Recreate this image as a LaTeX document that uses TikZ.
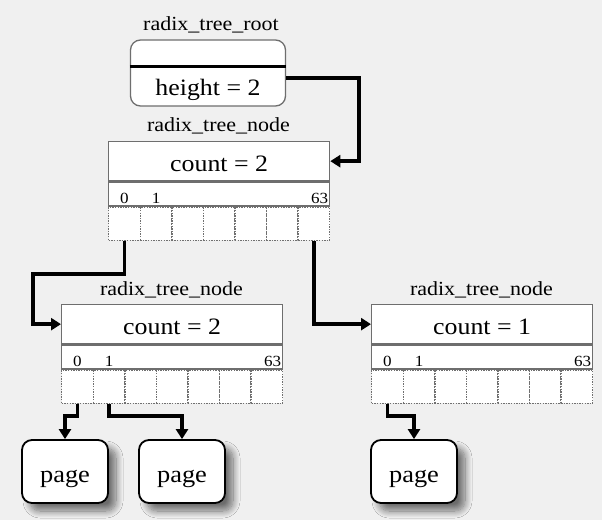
\documentclass[tikz,border=0pt]{standalone}
\usepackage{fontspec}
\setmainfont{Liberation Serif}[FakeStretch=1.1]
\usetikzlibrary{arrows.meta,shadows.blur,calc}
\definecolor{bgcol}{HTML}{F0F0F0}
\definecolor{boxgray}{HTML}{6E6E6E}
\definecolor{dotgray}{HTML}{707070}
\tikzset{
  lbl/.style={font=\fontsize{20}{22}\selectfont, inner sep=0pt},
  cnt/.style={draw=boxgray, line width=1.3pt, fill=white, minimum width=221pt, minimum height=39pt, inner sep=0pt, text height=21pt, text depth=0pt, font=\fontsize{23.5}{26}\selectfont},
  idxrow/.style={draw=boxgray, line width=1.3pt, fill=white, minimum width=221pt, minimum height=24pt, inner sep=0pt},
  slotbox/.style={draw=dotgray, dash pattern=on 1.4pt off 1.2pt, line width=1.4pt, fill=white, minimum width=31.57pt, minimum height=33pt, inner sep=0pt},
  idxnum/.style={font=\fontsize{15.5}{16}\selectfont, inner sep=0pt},
  link/.style={line width=3.5pt, -{Triangle[length=10pt,width=12pt]}},
  pagebox/.style={draw=black, line width=1.8pt, rounded corners=10pt, fill=white, minimum width=86pt, minimum height=63pt, inner sep=0pt, text height=21pt, text depth=0pt, font=\fontsize{24}{26}\selectfont,
    blur shadow={shadow xshift=8pt, shadow yshift=-8pt, shadow blur radius=7pt, shadow blur steps=14, shadow opacity=55}},
}
\newcommand\rtnode[5]{%
  \node[lbl, anchor=base] (#1-lbl) at (#2+110.5, #3-#5) {radix\_tree\_node};
  \node[cnt, anchor=north west] (#1-cnt) at (#2,#3) {count = #4};
  \node[idxrow, anchor=north west] (#1-idx) at (#1-cnt.south west) {};
  \foreach \i in {0,...,6}{
    \node[slotbox, anchor=north west] (#1-s\i) at ($(#1-idx.south west)+(\i*31.57,0)$) {};
  }
  \node[idxnum, anchor=base] (#1-n0) at ($(#1-s0.north)+(0,-3)$) {0};
  \node[idxnum, anchor=base] (#1-n1) at ($(#1-s1.north)+(0,-3)$) {1};
  \node[idxnum, anchor=base east] (#1-n63) at ($(#1-s6.north east)+(-2,-3)$) {63};
}
\begin{document}
\begin{tikzpicture}[x=1pt,y=-1pt]
  \fill[bgcol] (0,0) rectangle (602,520);
  \useasboundingbox (0,0) rectangle (602,520);
  % root
  \node[lbl, anchor=base] (rootlbl) at (211,30) {radix\_tree\_root};
  \node[draw=boxgray, line width=1.3pt, rounded corners=10pt, fill=white, minimum width=155pt, minimum height=66pt, inner sep=0pt] (root) at (208,73) {};
  \draw[line width=3pt] (root.west |- 0,66) -- (root.east |- 0,66);
  \node[font=\fontsize{23.5}{26}\selectfont, inner sep=0pt, anchor=base] (rooth) at (208,95) {height = 2};
  % tree nodes
  \rtnode{top}{108}{141}{2}{10}
  \rtnode{left}{61}{304}{2}{9}
  \rtnode{right}{371}{304}{1}{9}
  % pages
  \node[pagebox] (page1) at (65,471.5) {page};
  \node[pagebox] (page2) at (182,471.5) {page};
  \node[pagebox] (page3) at (414,471.5) {page};
  % links
  \draw[link] ($(root.east)+(0,5)$) -- ++(73,0) |- (top-cnt.east);
  \draw[link] (top-s0.south) -- ++(0,33) -| ($(left-cnt.west)+(-28,0)$) -- (left-cnt.west);
  \draw[link] (top-s6.south) |- (right-cnt.west);
  \draw[link] (left-s0.south) -- ++(0,12) -| (page1.north);
  \draw[link] (left-s1.south) -- ++(0,12) -| (page2.north);
  \draw[link] (right-s0.south) -- ++(0,12) -| (page3.north);
\end{tikzpicture}
\end{document}
